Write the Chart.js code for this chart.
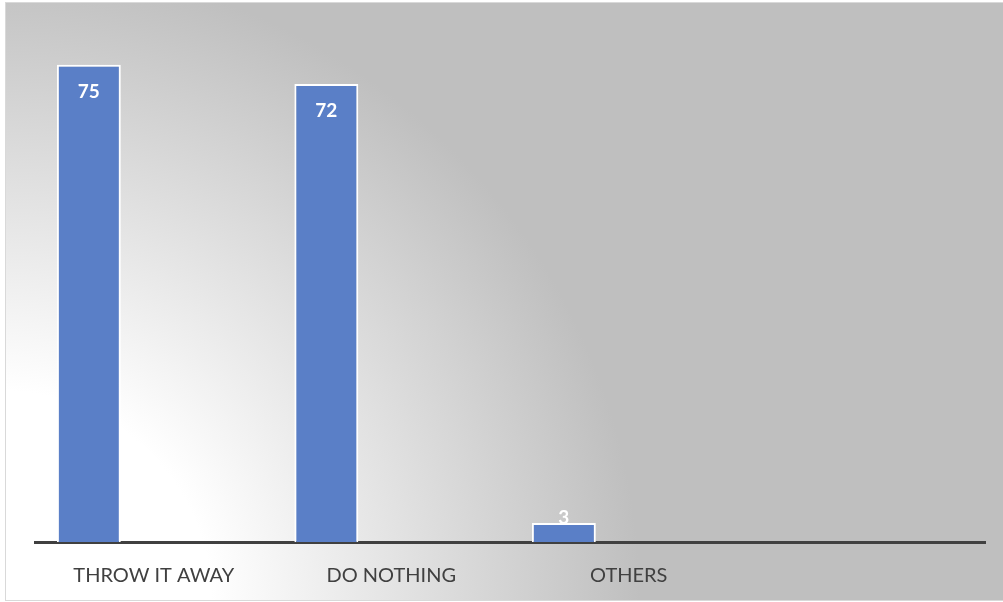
<!DOCTYPE html>
<html>
<head>
<meta charset="utf-8">
<title>What do you do with it?</title>
<script src="https://cdn.jsdelivr.net/npm/chart.js@4/dist/chart.umd.min.js"></script>
<style>
  html, body { margin: 0; padding: 0; background: #ffffff; }
  #wrap { width: 1003px; height: 602px; position: relative; }
</style>
</head>
<body>
<div id="wrap"><canvas id="answersChart"></canvas></div>
<script>
const categories = ['THROW IT AWAY', 'DO NOTHING', 'OTHERS', ''];
const responses = [75, 72, 3, null];
// the sheet had two more series columns left blank, they still take a slot in each group
const blankSeriesA = [];
const blankSeriesB = [];

// panel background: light radial wash from the bottom-left corner, grey frame
const panelBackground = {
    id: 'panelBackground',
    beforeDraw(chart) {
        const ctx = chart.ctx;
        ctx.save();
        ctx.fillStyle = '#ffffff';
        ctx.fillRect(0, 0, chart.width, chart.height);
        let g = ctx.createRadialGradient(0, 602, 0, 0, 602, 640);
        g.addColorStop(0, '#ffffff');
        g.addColorStop(0.33, '#ffffff');
        g.addColorStop(1, '#bfbfbf');
        ctx.fillStyle = g;
        ctx.fillRect(6, 3, chart.width - 6, 597);
        ctx.strokeStyle = '#d9d9d9';
        ctx.lineWidth = 1;
        ctx.strokeRect(5.5, 2.5, chart.width, 598);
        ctx.restore();
    }
};

// value labels, inside the top of each bar (pushed up when the bar is too short)
const valueLabels = {
    id: 'valueLabels',
    afterDatasetsDraw(chart) {
        const ctx = chart.ctx;
        const meta = chart.getDatasetMeta(0);
        ctx.save();
        ctx.fillStyle = '#ffffff';
        ctx.font = 'bold 19px Lato';
        ctx.textAlign = 'center';
        ctx.textBaseline = 'middle';
        meta.data.forEach(function(bar, i) {
            let v = responses[i];
            if (v == null) return;
            let y = Math.min(bar.y + 27, bar.base - 24);
            ctx.fillText(String(v), bar.x, y);
        });
        ctx.restore();
    }
};

let ctx = document.getElementById('answersChart').getContext('2d');
let answersChart = new Chart(ctx, {
    type: 'bar',
    data: {
        labels: categories,
        datasets: [
            {
                label: 'Responses',
                data: responses,
                backgroundColor: '#5a7fc7',
                borderColor: '#ffffff',
                borderWidth: 2,
                categoryPercentage: 0.82,
                barPercentage: 0.985
            },
            { label: 'Series 2', data: blankSeriesA, categoryPercentage: 0.82, barPercentage: 0.985 },
            { label: 'Series 3', data: blankSeriesB, categoryPercentage: 0.82, barPercentage: 0.985 }
        ]
    },
    options: {
        responsive: true,
        maintainAspectRatio: false,
        animation: false,
        layout: {
            padding: { left: 35, right: 18, top: 33, bottom: 0 }
        },
        plugins: {
            legend: { display: false },
            tooltip: { enabled: false }
        },
        scales: {
            x: {
                grid: { display: false },
                border: { display: true, color: '#404040', width: 3 },
                ticks: {
                    color: '#404040',
                    font: { family: 'Lato', size: 20 },
                    padding: 14,
                    maxRotation: 0
                },
                afterFit(scale) {
                    scale.height = 60;
                }
            },
            y: {
                display: false,
                min: 0,
                max: 80
            }
        }
    },
    plugins: [panelBackground, valueLabels]
});
</script>
</body>
</html>
